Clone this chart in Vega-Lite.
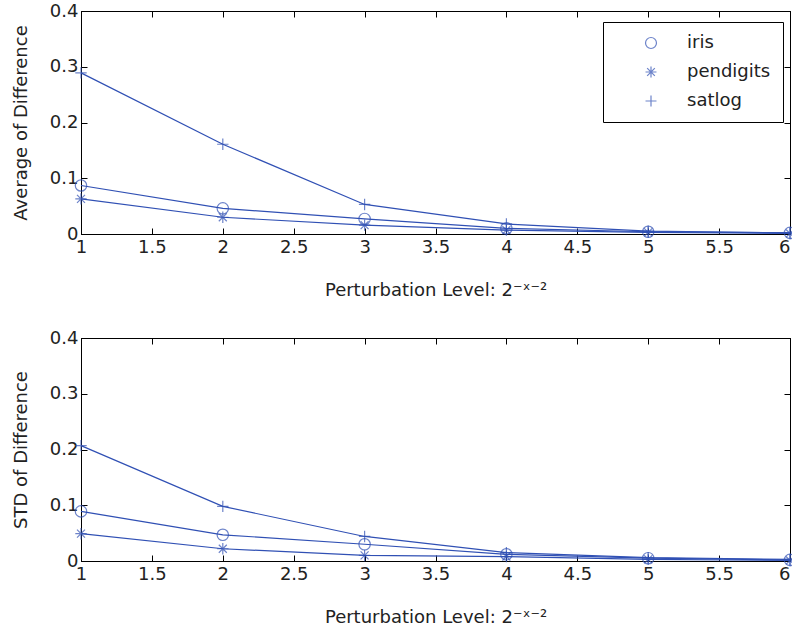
{
  "$schema": "https://vega.github.io/schema/vega-lite/v6.json",
  "padding": {"left": 11, "top": 1, "right": 2, "bottom": 5},
  "background": "white",
  "config": {
    "font": "DejaVu Sans",
    "view": {"stroke": "black", "strokeWidth": 1},
    "axis": {
      "grid": false,
      "domainColor": "black",
      "tickColor": "black",
      "labelColor": "#222222",
      "titleColor": "#222222",
      "labelFont": "DejaVu Sans",
      "titleFont": "DejaVu Sans",
      "labelFontSize": 18,
      "titleFontSize": 18,
      "titleFontWeight": "normal",
      "tickSize": -6,
      "labelFlush": false
    },
    "legend": {
      "labelFont": "DejaVu Sans",
      "labelFontSize": 18,
      "labelColor": "#222222"
    }
  },
  "datasets": {
    "avg": [
      {"x": 1, "dataset": "iris", "value": 0.087},
      {"x": 2, "dataset": "iris", "value": 0.046},
      {"x": 3, "dataset": "iris", "value": 0.027},
      {"x": 4, "dataset": "iris", "value": 0.010},
      {"x": 5, "dataset": "iris", "value": 0.004},
      {"x": 6, "dataset": "iris", "value": 0.002},
      {"x": 1, "dataset": "pendigits", "value": 0.063},
      {"x": 2, "dataset": "pendigits", "value": 0.030},
      {"x": 3, "dataset": "pendigits", "value": 0.016},
      {"x": 4, "dataset": "pendigits", "value": 0.007},
      {"x": 5, "dataset": "pendigits", "value": 0.003},
      {"x": 6, "dataset": "pendigits", "value": 0.001},
      {"x": 1, "dataset": "satlog", "value": 0.289},
      {"x": 2, "dataset": "satlog", "value": 0.161},
      {"x": 3, "dataset": "satlog", "value": 0.053},
      {"x": 4, "dataset": "satlog", "value": 0.018},
      {"x": 5, "dataset": "satlog", "value": 0.005},
      {"x": 6, "dataset": "satlog", "value": 0.002}
    ],
    "std": [
      {"x": 1, "dataset": "iris", "value": 0.089},
      {"x": 2, "dataset": "iris", "value": 0.047},
      {"x": 3, "dataset": "iris", "value": 0.030},
      {"x": 4, "dataset": "iris", "value": 0.012},
      {"x": 5, "dataset": "iris", "value": 0.005},
      {"x": 6, "dataset": "iris", "value": 0.002},
      {"x": 1, "dataset": "pendigits", "value": 0.049},
      {"x": 2, "dataset": "pendigits", "value": 0.022},
      {"x": 3, "dataset": "pendigits", "value": 0.010},
      {"x": 4, "dataset": "pendigits", "value": 0.008},
      {"x": 5, "dataset": "pendigits", "value": 0.003},
      {"x": 6, "dataset": "pendigits", "value": 0.001},
      {"x": 1, "dataset": "satlog", "value": 0.207},
      {"x": 2, "dataset": "satlog", "value": 0.098},
      {"x": 3, "dataset": "satlog", "value": 0.044},
      {"x": 4, "dataset": "satlog", "value": 0.015},
      {"x": 5, "dataset": "satlog", "value": 0.006},
      {"x": 6, "dataset": "satlog", "value": 0.003}
    ]
  },
  "spacing": 28,
  "vconcat": [
    {
      "width": 709,
      "height": 223,
      "data": {"name": "avg"},
      "resolve": {"axis": {"x": "independent", "y": "independent"}},
      "layer": [
        {
          "mark": {"type": "line", "color": "#3050b4", "strokeWidth": 1.2},
          "encoding": {
            "x": {"field": "x", "type": "quantitative", "scale": {"domain": [1, 6], "nice": false, "zero": false},
              "axis": {"orient": "bottom", "values": [1, 1.5, 2, 2.5, 3, 3.5, 4, 4.5, 5, 5.5, 6], "format": "~g", "labelPadding": 10, "labelAlign": {"condition": {"test": "datum.value == 6", "value": "right"}, "value": "center"}, "title": "Perturbation Level: 2⁻ˣ⁻²", "titlePadding": 25}},
            "y": {"field": "value", "type": "quantitative", "scale": {"domain": [0, 0.4], "nice": false},
              "axis": {"orient": "left", "values": [0, 0.1, 0.2, 0.3, 0.4], "format": "~g", "labelPadding": 9, "title": "Average of Difference", "titlePadding": 19}},
            "detail": {"field": "dataset"}
          }
        },
        {
          "mark": {"type": "point", "filled": false, "color": "#3050b4", "strokeWidth": 1.2, "size": 130},
          "encoding": {
            "x": {"field": "x", "type": "quantitative", "scale": {"domain": [1, 6], "nice": false, "zero": false},
              "axis": {"orient": "top", "values": [1, 1.5, 2, 2.5, 3, 3.5, 4, 4.5, 5, 5.5, 6], "labels": false, "title": null}},
            "y": {"field": "value", "type": "quantitative", "scale": {"domain": [0, 0.4], "nice": false},
              "axis": {"orient": "right", "values": [0, 0.1, 0.2, 0.3, 0.4], "labels": false, "title": null}},
            "shape": {
              "field": "dataset", "type": "nominal",
              "scale": {"domain": ["iris", "pendigits", "satlog"], "range": ["circle", "M-1,0H1M0,-1V1M-0.7,-0.7L0.7,0.7M-0.7,0.7L0.7,-0.7", "M-1,0H1M0,-1V1"]},
              "legend": {"title": null, "orient": "none", "legendX": 522, "legendY": 11, "padding": 12, "strokeColor": "black", "fillColor": "white", "symbolSize": 120, "symbolStrokeColor": "#3050b4", "symbolFillColor": "transparent", "symbolStrokeWidth": 1.2, "symbolOffset": 27, "labelOffset": 27, "rowPadding": 11, "cornerRadius": 0}
            }
          }
        }
      ]
    },
    {
      "width": 709,
      "height": 223,
      "data": {"name": "std"},
      "resolve": {"axis": {"x": "independent", "y": "independent"}},
      "layer": [
        {
          "mark": {"type": "line", "color": "#3050b4", "strokeWidth": 1.2},
          "encoding": {
            "x": {"field": "x", "type": "quantitative", "scale": {"domain": [1, 6], "nice": false, "zero": false},
              "axis": {"orient": "bottom", "values": [1, 1.5, 2, 2.5, 3, 3.5, 4, 4.5, 5, 5.5, 6], "format": "~g", "labelPadding": 10, "labelAlign": {"condition": {"test": "datum.value == 6", "value": "right"}, "value": "center"}, "title": "Perturbation Level: 2⁻ˣ⁻²", "titlePadding": 25}},
            "y": {"field": "value", "type": "quantitative", "scale": {"domain": [0, 0.4], "nice": false},
              "axis": {"orient": "left", "values": [0, 0.1, 0.2, 0.3, 0.4], "format": "~g", "labelPadding": 9, "title": "STD of Difference", "titlePadding": 19}},
            "detail": {"field": "dataset"}
          }
        },
        {
          "mark": {"type": "point", "filled": false, "color": "#3050b4", "strokeWidth": 1.2, "size": 130},
          "encoding": {
            "x": {"field": "x", "type": "quantitative", "scale": {"domain": [1, 6], "nice": false, "zero": false},
              "axis": {"orient": "top", "values": [1, 1.5, 2, 2.5, 3, 3.5, 4, 4.5, 5, 5.5, 6], "labels": false, "title": null}},
            "y": {"field": "value", "type": "quantitative", "scale": {"domain": [0, 0.4], "nice": false},
              "axis": {"orient": "right", "values": [0, 0.1, 0.2, 0.3, 0.4], "labels": false, "title": null}},
            "shape": {
              "field": "dataset", "type": "nominal",
              "scale": {"domain": ["iris", "pendigits", "satlog"], "range": ["circle", "M-1,0H1M0,-1V1M-0.7,-0.7L0.7,0.7M-0.7,0.7L0.7,-0.7", "M-1,0H1M0,-1V1"]},
              "legend": {"title": null, "orient": "none", "legendX": 522, "legendY": 11, "padding": 12, "strokeColor": "black", "fillColor": "white", "symbolSize": 120, "symbolStrokeColor": "#3050b4", "symbolFillColor": "transparent", "symbolStrokeWidth": 1.2, "symbolOffset": 27, "labelOffset": 27, "rowPadding": 11, "cornerRadius": 0}
            }
          }
        }
      ]
    }
  ]
}
